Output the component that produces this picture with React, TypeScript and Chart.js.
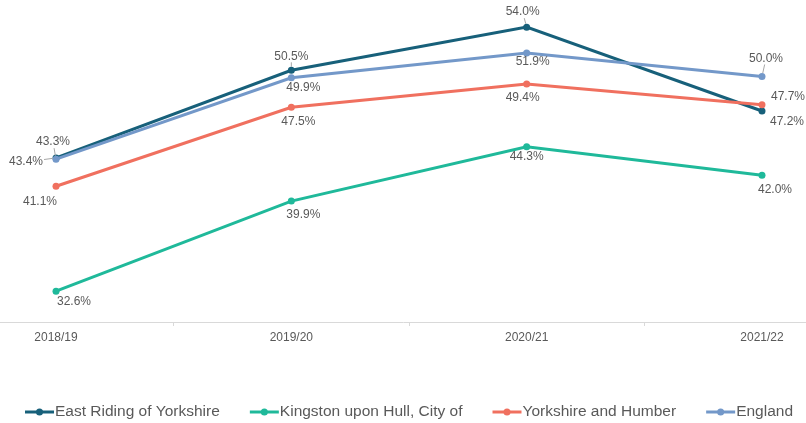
import { useEffect, useRef } from "react";
import { Chart, registerables } from "chart.js";

Chart.register(...registerables);

const categories = ["2018/19", "2019/20", "2020/21", "2021/22"];
const eastRiding = [43.4, 50.5, 54.0, 47.2];
const hull = [32.6, 39.9, 44.3, 42.0];
const yorkshireHumber = [41.1, 47.5, 49.4, 47.7];
const england = [43.3, 49.9, 51.9, 50.0];

const FONT = '"Liberation Sans", Arial, sans-serif';
const TEXT = "#595959";

type Off = [number, number, boolean];

const seriesDefs: { label: string; values: number[]; color: string; order: number; labelOffsets: Off[] }[] = [
  {
    label: "East Riding of Yorkshire",
    values: eastRiding,
    color: "#17607a",
    order: 4,
    labelOffsets: [[-30, 4, true], [0, -14, true], [-4, -15, true], [25, 11, false]],
  },
  {
    label: "Kingston upon Hull, City of",
    values: hull,
    color: "#1fb99a",
    order: 3,
    labelOffsets: [[18, 11, false], [12, 14, false], [0, 10, false], [13, 14, false]],
  },
  {
    label: "Yorkshire and Humber",
    values: yorkshireHumber,
    color: "#f0705f",
    order: 2,
    labelOffsets: [[-16, 15, false], [7, 14, false], [-4, 14, false], [26, -8, false]],
  },
  {
    label: "England",
    values: england,
    color: "#7398c9",
    order: 1,
    labelOffsets: [[-3, -17, true], [12, 10, false], [6, 9, false], [4, -18, true]],
  },
];

const pointLabels = {
  id: "pointLabels",
  afterDatasetsDraw(chart: any) {
    const ctx = chart.ctx;
    ctx.save();
    ctx.font = `12px ${FONT}`;
    ctx.textAlign = "center";
    ctx.textBaseline = "middle";
    chart.data.datasets.forEach((ds: any, di: number) => {
      const meta = chart.getDatasetMeta(di);
      meta.data.forEach((pt: any, i: number) => {
        const [dx, dy, leader] = ds.labelOffsets[i] as Off;
        const text = ds.data[i].y.toFixed(1) + "%";
        const cx = pt.x + dx;
        const cy = pt.y + dy;
        if (leader) {
          const hw = ctx.measureText(text).width / 2 + 1;
          const hh = 6;
          const vx = pt.x - cx;
          const vy = pt.y - cy;
          const t = Math.min(
            vx !== 0 ? hw / Math.abs(vx) : Infinity,
            vy !== 0 ? hh / Math.abs(vy) : Infinity
          );
          const sx = cx + vx * t;
          const sy = cy + vy * t;
          const len = Math.hypot(pt.x - sx, pt.y - sy);
          if (len > 4) {
            const ex = pt.x - ((pt.x - sx) / len) * 3.5;
            const ey = pt.y - ((pt.y - sy) / len) * 3.5;
            ctx.strokeStyle = "#a6a6a6";
            ctx.lineWidth = 1;
            ctx.beginPath();
            ctx.moveTo(sx, sy);
            ctx.lineTo(ex, ey);
            ctx.stroke();
          }
        }
        ctx.fillStyle = TEXT;
        ctx.fillText(text, cx, cy);
      });
    });
    ctx.restore();
  },
};

const customLegend = {
  id: "customLegend",
  afterDraw(chart: any) {
    const ctx = chart.ctx;
    ctx.save();
    ctx.font = `15.5px ${FONT}`;
    ctx.textBaseline = "middle";
    ctx.textAlign = "left";
    const y = 412;
    let x = 25;
    chart.data.datasets.forEach((ds: any) => {
      ctx.strokeStyle = ds.borderColor;
      ctx.lineWidth = 3;
      ctx.beginPath();
      ctx.moveTo(x, y);
      ctx.lineTo(x + 29, y);
      ctx.stroke();
      ctx.fillStyle = ds.borderColor;
      ctx.beginPath();
      ctx.arc(x + 14.5, y, 3.5, 0, Math.PI * 2);
      ctx.fill();
      ctx.fillStyle = TEXT;
      ctx.fillText(ds.label, x + 30, y);
      x += 30 + ctx.measureText(ds.label).width + 30;
    });
    ctx.restore();
  },
};

export default function App() {
  const ref = useRef<HTMLCanvasElement | null>(null);
  useEffect(() => {
    if (!ref.current) return;
    const chart = new Chart(ref.current, {
      type: "line",
      data: {
        datasets: seriesDefs.map((s) => ({
          label: s.label,
          data: s.values.map((v, i) => ({ x: i, y: v })),
          borderColor: s.color,
          backgroundColor: s.color,
          pointBackgroundColor: s.color,
          pointBorderColor: s.color,
          borderWidth: 3,
          pointRadius: 3.5,
          pointBorderWidth: 0,
          tension: 0,
          order: s.order,
          clip: false,
          labelOffsets: s.labelOffsets,
        })) as any,
      },
      options: {
        animation: false,
        responsive: false,
        maintainAspectRatio: false,
        layout: { autoPadding: false, padding: { left: 0, right: 0, top: 0, bottom: 81 } },
        plugins: { legend: { display: false }, tooltip: { enabled: false } },
        scales: {
          x: {
            type: "linear",
            min: -0.238,
            max: 3.187,
            afterBuildTicks: (s: any) => {
              s.ticks = categories.map((_, i) => ({ value: i }));
            },
            afterFit: (s: any) => {
              s.height = 20;
            },
            ticks: {
              callback: (v: any) => categories[v] ?? "",
              font: { size: 12, family: FONT },
              color: TEXT,
              padding: 4,
              maxRotation: 0,
              autoSkip: false,
            },
            grid: {
              offset: true,
              drawOnChartArea: false,
              drawTicks: true,
              tickLength: 4,
              color: "#d9d9d9",
            },
            border: { display: true, color: "#d9d9d9", width: 1 },
          },
          y: { display: false, min: 30.1, max: 56.2 },
        },
      },
      plugins: [pointLabels, customLegend],
    });
    return () => chart.destroy();
  }, []);
  return (
    <div style={{ position: "fixed", left: 0, top: 0, width: 806, height: 423 }}>
      <canvas ref={ref} width={806} height={423} style={{ display: "block", width: 806, height: 423 }} />
    </div>
  );
}
